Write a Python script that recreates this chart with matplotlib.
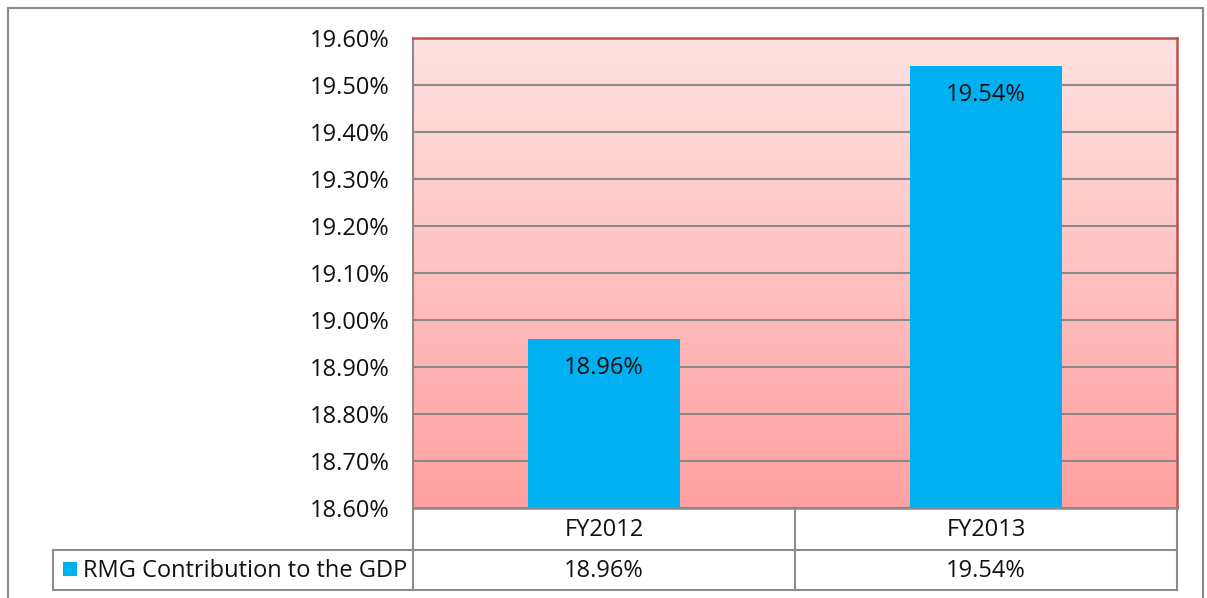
import matplotlib
matplotlib.use("Agg")
import matplotlib.pyplot as plt
import numpy as np
from matplotlib.lines import Line2D
from matplotlib.patches import Rectangle
import matplotlib.transforms as mtransforms

categories = ["FY2012", "FY2013"]
values = [18.96, 19.54]
series_name = "RMG Contribution to the GDP"
yticks = [18.6, 18.7, 18.8, 18.9, 19.0, 19.1, 19.2, 19.3, 19.4, 19.5, 19.6]

W, H = 1207, 598
FS = 17
plt.rcParams['font.family'] = ['Open Sans', 'DejaVu Sans']
fig = plt.figure(figsize=(W/100, H/100), dpi=100)
fig.patch.set_facecolor('white')

def fx(px): return px / W
def fy(py): return 1 - py / H

L, R, T, B = 413, 1177, 38, 508
ax = fig.add_axes([fx(L), fy(B), fx(R) - fx(L), fy(T) - fy(B)])
ax.set_xlim(-0.5, len(categories) - 0.5)
ax.set_ylim(yticks[0], yticks[-1])

# gradient background
top_c = np.array([255, 226, 226]) / 255
bot_c = np.array([255, 160, 160]) / 255
t = np.linspace(0, 1, 256)[:, None]
grad = top_c[None, :] * (1 - t) + bot_c[None, :] * t
grad = np.repeat(grad[:, None, :], 2, axis=1)
ax.imshow(grad, extent=[-0.5, len(categories) - 0.5, yticks[0], yticks[-1]],
          aspect='auto', origin='upper', zorder=0)

ax.set_yticks(yticks)
ax.set_yticklabels([f"{v:.2f}%" for v in yticks], fontsize=FS, color='#111111')
ax.tick_params(axis='y', length=0, pad=17)
ax.set_xticks([])
ax.grid(axis='y', color='#8a8a8a', linewidth=1.5, zorder=1)
ax.set_axisbelow(True)

x = np.arange(len(categories))
bars = ax.bar(x, values, width=0.398, color='#00B0F0', zorder=2)
for xi, v in zip(x, values):
    ax.annotate(f"{v:.2f}%", (xi, v), xytext=(0, -21), textcoords='offset points',
                ha='center', va='center', fontsize=FS, color='#111111', zorder=3)

for s in ['top', 'right']:
    ax.spines[s].set_color('#c0504d')
    ax.spines[s].set_linewidth(1.8)
ax.spines['left'].set_color('#8a8a8a')
ax.spines['left'].set_linewidth(1.5)
ax.spines['bottom'].set_color('#8a8a8a')
ax.spines['bottom'].set_linewidth(1.8)

# data table
lc = '#8c8c8c'
lw = 1.5
row1, row2 = 550, 590
def fline(x0, y0, x1, y1):
    fig.add_artist(Line2D([fx(x0), fx(x1)], [fy(y0), fy(y1)], color=lc, linewidth=lw))

cell_w = (R - L) / len(categories)
for i in range(len(categories) + 1):
    fline(L + i * cell_w, B, L + i * cell_w, row2)
fline(53, row1, R, row1)
fline(53, row2, R, row2)
fline(53, row1, 53, row2)

blend = mtransforms.blended_transform_factory(ax.transData, fig.transFigure)
for xi, c, v in zip(x, categories, values):
    fig.text(xi, fy((B + row1) / 2 + 1), c, transform=blend, ha='center', va='center',
             fontsize=FS, color='#111111')
    fig.text(xi, fy((row1 + row2) / 2 + 1), f"{v:.2f}%", transform=blend, ha='center',
             va='center', fontsize=FS, color='#111111')

fig.add_artist(Rectangle((fx(63), fy(576)), fx(14), fy(562) - fy(576),
                         facecolor='#00B0F0', edgecolor='none', transform=fig.transFigure))
fig.text(fx(83), fy((row1 + row2) / 2 + 1), series_name, ha='left', va='center',
         fontsize=FS, color='#111111')

# outer chart frame
oc = '#8a8a8a'
fig.add_artist(Line2D([fx(8), fx(1203)], [fy(8), fy(8)], color=oc, linewidth=1.5))
fig.add_artist(Line2D([fx(8), fx(8)], [fy(8), fy(598)], color=oc, linewidth=1.5))
fig.add_artist(Line2D([fx(1203), fx(1203)], [fy(8), fy(598)], color=oc, linewidth=1.5))

fig.savefig("out.png", dpi=100)
